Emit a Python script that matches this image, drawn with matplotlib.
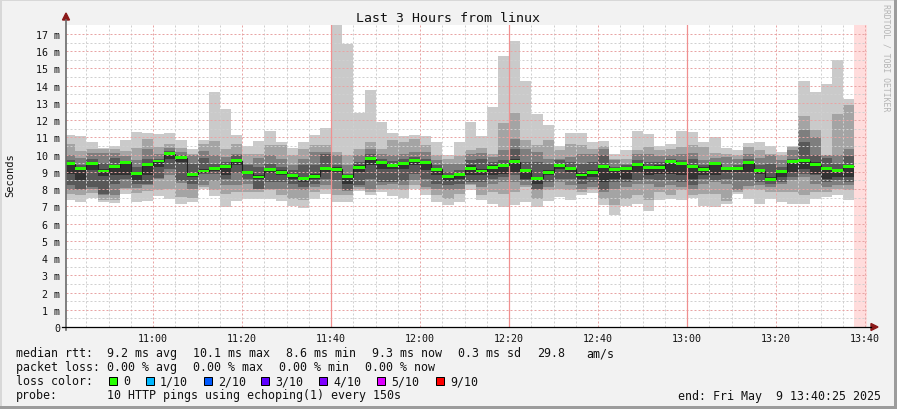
import numpy as np
import pandas as pd
import matplotlib
matplotlib.use('Agg')
import matplotlib.pyplot as plt
import matplotlib.dates as mdates
from matplotlib.patches import Rectangle, Polygon
from matplotlib.lines import Line2D

W, H = 897, 410
MONO = 'DejaVu Sans Mono'

# 150 s steps starting 10:40:00, last one ends 13:37:30
START = '2025-05-09 10:40:00'
VIEW = ('2025-05-09 10:40:25', '2025-05-09 13:40:25')
STEP = '150s'

# median rtt per step (ms)
median = [9.48, 9.17, 9.46, 9.05, 9.30, 9.55, 8.92, 9.42, 9.63, 10.06,
          9.81, 8.86, 9.05, 9.19, 9.30, 9.65, 8.95, 8.70, 9.13, 8.97,
          8.78, 8.61, 8.74, 9.19, 9.15, 8.72, 9.26, 9.77, 9.53, 9.38,
          9.46, 9.65, 9.53, 9.15, 8.72, 8.86, 9.21, 9.05, 9.26, 9.38,
          9.59, 9.09, 8.63, 8.99, 9.38, 9.19, 8.82, 8.99, 9.32, 9.13,
          9.17, 9.44, 9.24, 9.24, 9.61, 9.46, 9.32, 9.15, 9.46, 9.19,
          9.22, 9.53, 9.07, 8.57, 9.01, 9.61, 9.65, 9.42, 9.19, 9.09,
          9.32]

# the 10 pings of every step, sorted low -> high (ms)
ping1 = [7.35, 7.23, 7.50, 7.23, 7.18, 7.74, 7.23, 7.29, 7.58, 7.45,
         7.12, 7.23, 7.99, 7.58, 6.94, 7.29, 7.43, 7.43, 7.45, 7.29,
         7.02, 6.90, 7.45, 7.70, 7.23, 7.23, 7.91, 7.64, 7.83, 7.58,
         7.50, 7.99, 7.64, 7.23, 7.06, 7.25, 7.97, 7.35, 7.16, 6.94,
         7.10, 7.23, 6.96, 7.29, 7.52, 7.37, 7.64, 7.79, 7.06, 6.48,
         7.02, 7.16, 6.71, 7.35, 7.41, 7.35, 7.50, 7.02, 6.96, 7.14,
         7.70, 7.45, 7.16, 7.41, 7.23, 7.12, 7.16, 7.45, 7.56, 7.64,
         7.35]
ping2 = [7.70, 7.64, 7.77, 7.35, 7.35, 7.99, 7.77, 7.87, 7.93, 8.03,
         7.54, 7.50, 8.12, 7.97, 7.74, 7.83, 7.83, 7.83, 7.93, 7.64,
         7.45, 7.35, 7.83, 8.03, 7.64, 7.64, 8.03, 7.83, 8.03, 8.03,
         7.93, 8.22, 8.03, 7.64, 7.45, 7.74, 8.22, 7.64, 7.83, 7.74,
         7.83, 8.12, 7.45, 7.93, 8.03, 7.93, 7.83, 8.03, 7.45, 7.06,
         7.45, 7.64, 7.35, 7.83, 7.64, 7.93, 7.64, 7.74, 7.74, 7.29,
         7.83, 8.03, 7.93, 7.83, 7.83, 7.83, 7.64, 7.83, 7.83, 7.99,
         7.93]
ping3 = [7.97, 7.93, 8.03, 7.64, 7.64, 8.06, 8.08, 8.22, 8.61, 8.84,
         8.33, 7.99, 8.26, 8.45, 8.22, 8.22, 8.28, 7.99, 8.03, 8.03,
         8.03, 7.93, 8.12, 8.22, 8.03, 7.89, 8.12, 8.03, 8.22, 8.32,
         8.22, 8.51, 8.12, 8.03, 7.93, 8.03, 8.32, 8.12, 8.32, 8.41,
         8.41, 8.22, 7.93, 8.12, 8.41, 8.22, 8.03, 8.12, 7.83, 8.03,
         8.12, 8.32, 8.32, 8.12, 8.22, 8.12, 8.03, 8.32, 8.41, 8.32,
         7.93, 8.16, 8.22, 8.12, 8.32, 8.51, 8.70, 8.32, 8.12, 8.22,
         8.22]
ping4 = [8.26, 8.03, 8.12, 7.70, 8.28, 8.61, 8.28, 8.28, 8.67, 9.15,
         8.47, 8.28, 8.86, 8.90, 8.61, 8.95, 8.57, 8.03, 8.41, 8.41,
         8.32, 8.12, 8.32, 8.61, 8.51, 7.93, 8.22, 8.61, 8.41, 8.41,
         8.45, 8.90, 8.61, 8.32, 8.22, 8.32, 8.41, 8.41, 8.61, 8.70,
         8.80, 8.51, 8.03, 8.41, 8.61, 8.61, 8.32, 8.41, 7.93, 8.41,
         8.41, 8.51, 8.61, 8.51, 8.51, 8.41, 8.22, 8.61, 8.51, 8.61,
         8.51, 8.51, 8.41, 8.32, 8.41, 8.70, 8.90, 8.80, 8.41, 8.51,
         8.41]
ping5 = [8.90, 8.51, 9.09, 8.76, 8.80, 8.84, 8.51, 8.84, 9.28, 9.77,
         9.57, 8.70, 8.93, 9.03, 8.80, 9.38, 8.88, 8.61, 8.95, 8.80,
         8.61, 8.41, 8.61, 8.99, 8.99, 8.32, 8.99, 9.38, 9.19, 9.19,
         9.19, 9.38, 9.09, 8.80, 8.45, 8.61, 8.80, 8.80, 8.80, 8.90,
         8.99, 8.61, 8.28, 8.80, 9.19, 8.99, 8.61, 8.70, 8.41, 8.61,
         8.61, 8.99, 8.80, 8.90, 8.90, 8.80, 8.61, 8.80, 8.80, 8.99,
         8.99, 8.99, 8.90, 8.47, 8.70, 8.99, 9.19, 8.90, 8.61, 8.70,
         8.70]
ping6 = [9.57, 9.28, 9.53, 9.15, 9.38, 9.59, 8.99, 9.44, 9.69, 10.10,
         9.84, 8.95, 9.15, 9.30, 9.38, 9.73, 8.99, 8.80, 9.19, 9.09,
         8.90, 8.70, 8.90, 9.28, 9.28, 8.80, 9.38, 9.84, 9.61, 9.48,
         9.57, 9.77, 9.61, 9.22, 8.84, 8.93, 9.38, 9.15, 9.38, 9.48,
         9.73, 9.15, 8.70, 9.09, 9.48, 9.28, 8.93, 9.09, 9.38, 9.19,
         9.28, 9.53, 9.34, 9.38, 9.67, 9.53, 9.38, 9.28, 9.53, 9.24,
         9.28, 9.61, 9.15, 8.70, 9.09, 9.67, 9.77, 9.57, 9.28, 9.19,
         9.42]
ping7 = [9.67, 9.38, 9.77, 9.53, 9.81, 9.63, 9.28, 9.77, 9.77, 10.19,
         9.96, 9.48, 9.81, 9.46, 9.57, 9.96, 9.38, 9.30, 9.48, 9.28,
         9.09, 9.38, 9.38, 10.06, 9.38, 8.90, 9.57, 10.06, 9.77, 9.61,
         9.77, 9.86, 9.77, 9.38, 8.99, 9.09, 9.67, 9.77, 9.57, 9.67,
         10.35, 9.57, 9.57, 9.48, 9.67, 9.57, 9.48, 9.57, 9.96, 9.28,
         9.38, 9.67, 9.57, 9.57, 9.77, 9.67, 9.77, 9.38, 9.57, 9.28,
         9.38, 9.77, 9.38, 9.48, 9.28, 9.73, 10.73, 9.96, 9.81, 9.48,
         9.90]
ping8 = [10.00, 9.81, 10.08, 10.12, 10.12, 9.92, 9.67, 10.35, 10.06, 10.39,
         10.15, 9.96, 10.19, 9.96, 9.84, 10.06, 9.48, 9.81, 9.96, 9.77,
         9.38, 9.77, 10.15, 10.15, 9.96, 9.38, 9.96, 10.35, 10.06, 9.96,
         10.06, 10.15, 10.15, 9.67, 9.48, 9.48, 10.06, 10.12, 9.86, 10.29,
         10.93, 10.35, 10.15, 9.77, 9.77, 9.86, 10.06, 10.06, 10.31, 9.67,
         9.48, 10.06, 10.06, 9.92, 9.96, 10.06, 10.12, 9.67, 9.82, 9.86,
         9.77, 10.06, 9.81, 9.96, 9.67, 10.25, 11.45, 11.02, 9.96, 9.96,
         10.35]
ping9 = [10.64, 10.23, 10.35, 10.35, 10.35, 10.19, 10.39, 10.93, 10.46, 10.64,
         10.41, 10.02, 10.64, 10.81, 10.35, 10.64, 10.06, 10.06, 10.54, 10.54,
         9.96, 10.35, 10.54, 10.54, 10.15, 9.96, 10.35, 10.73, 10.35, 10.83,
         10.73, 10.89, 10.54, 9.96, 9.77, 9.92, 10.29, 10.39, 10.06, 11.86,
         12.44, 10.83, 10.54, 10.83, 10.25, 10.64, 10.54, 10.35, 10.48, 9.77,
         9.77, 10.25, 10.44, 10.25, 10.31, 10.44, 10.54, 10.44, 10.12, 10.06,
         9.96, 10.44, 10.25, 10.06, 9.96, 10.46, 12.26, 11.41, 10.00, 12.38,
         12.90]
ping10 = [11.16, 11.08, 10.73, 10.39, 10.52, 10.87, 11.31, 11.26, 11.20, 11.26,
          10.87, 10.35, 10.87, 13.65, 12.67, 11.16, 10.48, 10.81, 11.39, 10.73,
          10.39, 10.73, 11.16, 11.57, 17.60, 16.44, 12.44, 13.77, 11.91, 11.26,
          11.08, 11.16, 11.08, 10.73, 9.96, 10.73, 11.91, 11.08, 12.78, 15.70,
          16.61, 14.29, 12.38, 11.74, 10.48, 11.26, 11.26, 10.73, 10.81, 10.02,
          10.29, 11.39, 11.20, 10.52, 10.64, 11.39, 11.31, 10.75, 11.00, 10.41,
          10.29, 10.70, 10.75, 10.52, 10.15, 10.52, 14.29, 13.65, 14.12, 15.51,
          13.25]

loss_labels = ['0', '1/10', '2/10', '3/10', '4/10', '5/10', '9/10']
loss_colors = ['#26ff00', '#00b8ff', '#0059ff', '#5e00ff', '#7e00ff', '#dd00ff', '#ff0000']
smoke_colors = ['#cacaca', '#a4a4a4', '#7e7e7e', '#585858', '#323232']

stats_rtt = ['9.2 ms avg', '10.1 ms max', '8.6 ms min', '9.3 ms now', '0.3 ms sd', '29.8', 'am/s']
stats_loss = ['0.00 % avg', '0.00 % max', '0.00 % min', '0.00 % now']


def fx(px):
    return px / W


def fy(py):
    return 1 - py / H


def main():
    fig = plt.figure(figsize=(W / 100, H / 100), dpi=100, facecolor='#f2f2f2')
    ax = fig.add_axes([fx(66), fy(328), fx(867) - fx(66), fy(26) - fy(328)])
    ax.set_facecolor('white')

    n = len(median)
    edges = mdates.date2num(pd.date_range(START, periods=n + 1, freq=STEP).to_pydatetime())
    left = edges[:-1]
    width = edges[1] - edges[0]
    pings = np.sort(np.array([ping1, ping2, ping3, ping4, ping5,
                              ping6, ping7, ping8, ping9, ping10]), axis=0)

    # smoke: outer pair lightest, inner pair darkest
    for i, col in enumerate(smoke_colors):
        lo, hi = pings[i], pings[9 - i]
        ax.bar(left, hi - lo, bottom=lo, width=width, align='edge', color=col,
               linewidth=0, antialiased=False, zorder=2)

    # no data yet at the end of the window
    x0, x1 = [mdates.date2num(pd.Timestamp(v).to_pydatetime()) for v in VIEW]
    ax.axvspan(edges[-1], x1, color='#ffdcdc', linewidth=0, zorder=1)

    # median: thin dark step line + green band (0 loss)
    med = np.array(median)
    ax.stairs(med, edges, baseline=None, color='#202020', linewidth=0.8, zorder=4)
    half = 0.085
    ax.bar(left, 2 * half, bottom=med - half, width=width, align='edge',
           color=loss_colors[0], linewidth=0, antialiased=False, zorder=5)

    ax.set_xlim(x0, x1)
    ax.set_ylim(0, 17.52)

    ax.xaxis.set_major_locator(mdates.MinuteLocator(byminute=[0, 20, 40]))
    ax.xaxis.set_minor_locator(mdates.MinuteLocator(byminute=range(0, 60, 5)))
    ax.xaxis.set_major_formatter(mdates.DateFormatter('%H:%M'))
    ax.set_yticks(range(0, 18))
    ax.set_yticks(np.arange(0.5, 17.5, 1.0), minor=True)
    ax.set_yticklabels(['0'] + ['%d m' % v for v in range(1, 18)])

    dots = (0, (2, 2))
    ax.grid(which='minor', color='#d0d0d0', linestyle=dots, linewidth=0.72)
    ax.grid(which='major', color='#e8a4a4', linestyle=dots, linewidth=0.72)
    ax.set_axisbelow(False)
    for t in ['11:40', '12:20', '13:00']:
        xt = mdates.date2num(pd.Timestamp('2025-05-09 ' + t).to_pydatetime())
        ax.axvline(xt, color='#f09090', linewidth=0.9, zorder=3.2)

    ax.tick_params(which='both', length=0, labelsize=7.2)
    ax.tick_params(axis='y', pad=4.3)
    ax.tick_params(axis='x', pad=4.0)
    for lab in ax.get_xticklabels() + ax.get_yticklabels():
        lab.set_family(MONO)
        lab.set_color('#111111')
    for s in ax.spines.values():
        s.set_visible(False)

    # axes with arrows
    fig.add_artist(Line2D([fx(66), fx(66)], [fy(331), fy(21)], color='#6a6a6a', lw=1.2))
    fig.add_artist(Line2D([fx(62), fx(871)], [fy(328), fy(328)], color='#000000', lw=0.9))
    fig.add_artist(Polygon([[fx(62.5), fy(21)], [fx(69.5), fy(21)], [fx(66), fy(14)]],
                           closed=True, color='#8b1a1a'))
    fig.add_artist(Polygon([[fx(871), fy(324.5)], [fx(871), fy(331.5)], [fx(878), fy(328)]],
                           closed=True, color='#8b1a1a'))

    # titles
    fig.text(fx(448), fy(19), 'Last 3 Hours from linux', ha='center', va='center',
             family=MONO, fontsize=9.5, color='#111111')
    fig.text(fx(10), fy(175), 'Seconds', ha='center', va='center', rotation=90,
             family=MONO, fontsize=7.5, color='#111111')
    fig.text(fx(886), fy(4), 'RRDTOOL / TOBI OETIKER', ha='center', va='top', rotation=270,
             family=MONO, fontsize=5.9, color='#b4b4b4')

    # legend block
    fs = 8.4
    kw = dict(ha='left', va='center', family=MONO, fontsize=fs, color='#111111')
    fig.text(fx(16), fy(354), 'median rtt:', **kw)
    for s, px in zip(stats_rtt, [107, 193, 286, 372, 458, 537, 586]):
        fig.text(fx(px), fy(354), s, **kw)
    fig.text(fx(16), fy(368), 'packet loss:', **kw)
    for s, px in zip(stats_loss, [107, 193, 279, 365]):
        fig.text(fx(px), fy(368), s, **kw)
    fig.text(fx(16), fy(382), 'loss color:', **kw)
    box_x = [109, 146, 204, 261, 319, 377, 436]
    for lab, col, bx in zip(loss_labels, loss_colors, box_x):
        fig.add_artist(Rectangle((fx(bx), fy(386)), fx(8), 8 / H, facecolor=col,
                                 edgecolor='black', linewidth=0.72))
        fig.text(fx(bx + 14), fy(382), lab, **kw)
    fig.text(fx(16), fy(396), 'probe:', **kw)
    fig.text(fx(107), fy(396), '10 HTTP pings using echoping(1) every 150s', **kw)
    fig.text(fx(881), fy(397), 'end: Fri May  9 13:40:25 2025',
             ha='right', va='center', family=MONO, fontsize=fs, color='#111111')

    # 3d frame around the image
    fig.add_artist(Rectangle((0, fy(2)), 1, 2 / H, color='#d8d8d8', linewidth=0))
    fig.add_artist(Rectangle((0, 0), fx(2), 1, color='#d8d8d8', linewidth=0))
    fig.add_artist(Rectangle((0, 0), 1, 3 / H, color='#9c9c9c', linewidth=0))
    fig.add_artist(Rectangle((fx(894), 0), fx(3), 1, color='#9c9c9c', linewidth=0))

    fig.savefig('out.png', dpi=100, facecolor=fig.get_facecolor())


if __name__ == '__main__':
    main()
